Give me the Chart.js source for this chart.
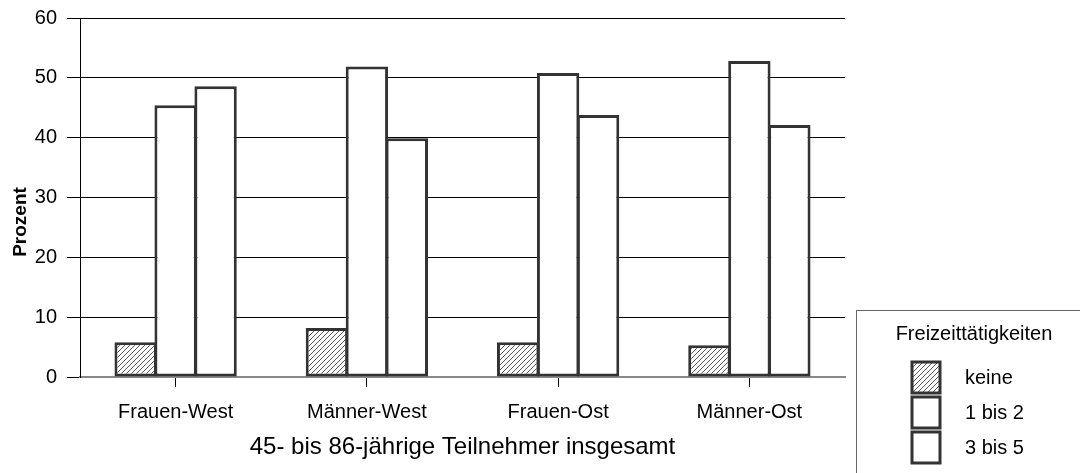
<!DOCTYPE html>
<html><head><meta charset="utf-8">
<script src="https://cdn.jsdelivr.net/npm/chart.js@4"></script>
<style>html,body{margin:0;padding:0;background:#fff}#wrap{width:1080px;height:473px}</style>
</head><body><div id="wrap"><canvas id="c" width="1080" height="473"></canvas></div>
<script>
const categories = ['Frauen-West', 'Männer-West', 'Frauen-Ost', 'Männer-Ost'];
const keine = [5.8, 8.2, 5.8, 5.3];
const einsBisZwei = [45.4, 51.9, 50.8, 52.8];
const dreiBisFuenf = [48.6, 39.9, 43.8, 42.1];
const seriesLabels = ['keine', '1 bis 2', '3 bis 5'];
const yTicks = [0, 10, 20, 30, 40, 50, 60];
const xTitle = '45- bis 86-jährige Teilnehmer insgesamt';
const yTitle = 'Prozent';
const legendTitle = 'Freizeittätigkeiten';

const FONT = '"Liberation Sans", Arial, sans-serif';

function hatch() {
  const p = document.createElement('canvas');
  p.width = 5; p.height = 5;
  const g = p.getContext('2d');
  g.fillStyle = '#fff'; g.fillRect(0, 0, 5, 5);
  g.strokeStyle = '#444'; g.lineWidth = 0.9;
  g.beginPath();
  g.moveTo(0, 5); g.lineTo(5, 0);
  g.moveTo(-1, 1); g.lineTo(1, -1);
  g.moveTo(4, 6); g.lineTo(6, 4);
  g.stroke();
  return g.createPattern(p, 'repeat');
}
const ctx = document.getElementById('c').getContext('2d');
const hatchPat = hatch();
const fills = [hatchPat, '#ffffff', '#ffffff'];

const extrasPlugin = {
  id: 'extras',
  afterDraw(chart) {
    const c = chart.ctx;
    c.save();
    // legend box
    c.strokeStyle = '#666'; c.lineWidth = 1;
    c.strokeRect(856.5, 310.5, 240, 180);
    c.fillStyle = '#000';
    c.font = '20px ' + FONT;
    c.textAlign = 'center'; c.textBaseline = 'middle';
    c.fillText(legendTitle, 974, 334);
    c.textAlign = 'left';
    chart.data.datasets.forEach((ds, i) => {
      const y = 362 + i * 35;
      c.fillStyle = ds.backgroundColor;
      c.fillRect(912, y, 28, 31);
      c.strokeStyle = '#333'; c.lineWidth = 3;
      c.strokeRect(912, y, 28, 31);
      c.fillStyle = '#000';
      c.fillText(ds.label, 965, y + 16);
    });
    // y axis title (clipped at left like the original)
    c.save();
    c.beginPath(); c.rect(13, 0, 60, 473); c.clip();
    c.translate(26, 222);
    c.rotate(-Math.PI / 2);
    c.font = 'bold 19px ' + FONT;
    c.textAlign = 'center'; c.textBaseline = 'alphabetic';
    c.fillText(yTitle, 0, 0);
    c.restore();
    c.restore();
  }
};

new Chart(ctx, {
  type: 'bar',
  data: {
    labels: categories,
    datasets: [
      { label: seriesLabels[0], data: keine, backgroundColor: fills[0] },
      { label: seriesLabels[1], data: einsBisZwei, backgroundColor: fills[1] },
      { label: seriesLabels[2], data: dreiBisFuenf, backgroundColor: fills[2] }
    ].map(d => Object.assign(d, { borderColor: '#333', borderWidth: 3, borderSkipped: false }))
  },
  options: {
    responsive: false,
    animation: false,
    devicePixelRatio: 1,
    layout: { padding: { top: 18, right: 235, left: 0, bottom: 0 } },
    datasets: { bar: { categoryPercentage: 0.627, barPercentage: 1.06 } },
    plugins: { legend: { display: false }, tooltip: { enabled: false } },
    scales: {
      x: {
        grid: { display: true, drawOnChartArea: false, color: '#000', tickLength: 10, offset: false },
        border: { display: true, color: '#888', width: 2 },
        ticks: { color: '#000', font: { size: 20, family: FONT }, padding: 13 },
        title: { display: true, text: xTitle, color: '#000', font: { size: 24, family: FONT }, padding: { top: 0, bottom: 11 } },
        afterFit(s) { s.height = 96; s.paddingLeft = 0; s.paddingRight = 0; }
      },
      y: {
        min: 0, max: 60,
        afterBuildTicks(s) { s.ticks = yTicks.map(v => ({ value: v })); },
        grid: { color: '#000', lineWidth: 1, tickLength: 13 },
        border: { display: true, color: '#000', width: 1 },
        ticks: { color: '#000', font: { size: 20, family: FONT }, padding: 10 },
        afterFit(s) { s.width = 80; s.paddingTop = 0; s.paddingBottom = 0; }
      }
    }
  },
  plugins: [extrasPlugin]
});
</script></body></html>
